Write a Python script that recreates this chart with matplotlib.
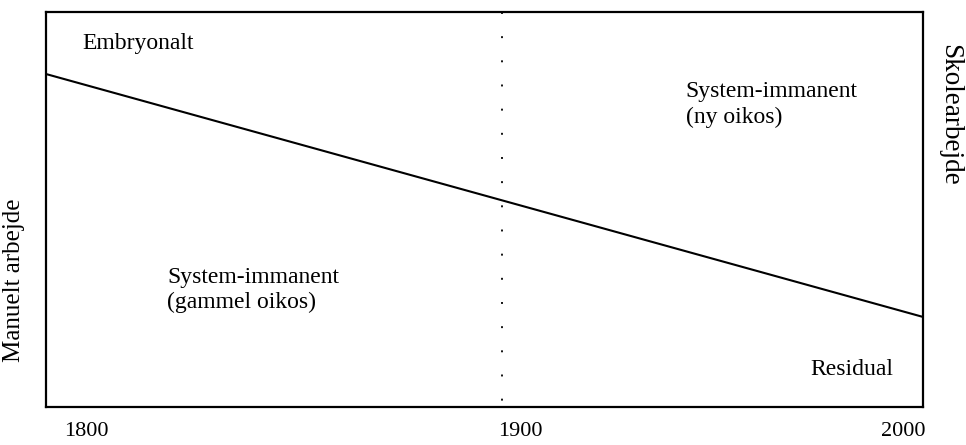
import matplotlib
matplotlib.use("Agg")
import matplotlib.pyplot as plt

# ---- data ----
years = [1800, 2000]
level = [0.843, 0.228]
divider_year = 1904.1
tick_labels = ['1800', '1900', '2000']
tick_pos = [1809.1, 1908.1, 1995.4]
region_labels = ['Embryonalt', 'System-immanent\n(ny oikos)',
                 'System-immanent\n(gammel oikos)', 'Residual']
region_x = [1808.2, 1945.9, 1827.6, 1974.2]
region_y = [0.9215, 0.765, 0.296, 0.094]

plt.rcParams['font.family'] = ['Liberation Serif', 'DejaVu Serif']
plt.rcParams['lines.scale_dashes'] = False

fig = plt.figure(figsize=(9.66, 4.45), dpi=100)
ax = fig.add_axes([46/966, 1-407/445, (923-46)/966, (407-12)/445])
ax.set_xlim(1800, 2000)
ax.set_ylim(0, 1)

ax.plot(years, level, color='black', lw=1.5, solid_capstyle='butt')
ax.plot([divider_year, divider_year], [1, 0], color='black', lw=1.3,
        dashes=(1.4, 16.0))

for s, x, y in zip(region_labels, region_x, region_y):
    ax.text(x, y, s, ha='left', va='center', fontsize=17, linespacing=1.28)

ax.set_xticks(tick_pos)
ax.set_xticklabels(tick_labels, fontsize=16)
ax.tick_params(axis='x', length=0, pad=11)
ax.set_yticks([])
for sp in ax.spines.values():
    sp.set_linewidth(1.6)

fig.text(950/966, 1-115/445, 'Skolearbejde', rotation=270, ha='center',
         va='center', fontsize=19.5)
fig.text(14/966, 1-280/445, 'Manuelt arbejde', rotation=90, ha='center',
         va='center', fontsize=18)

fig.savefig('out.png', dpi=100)
